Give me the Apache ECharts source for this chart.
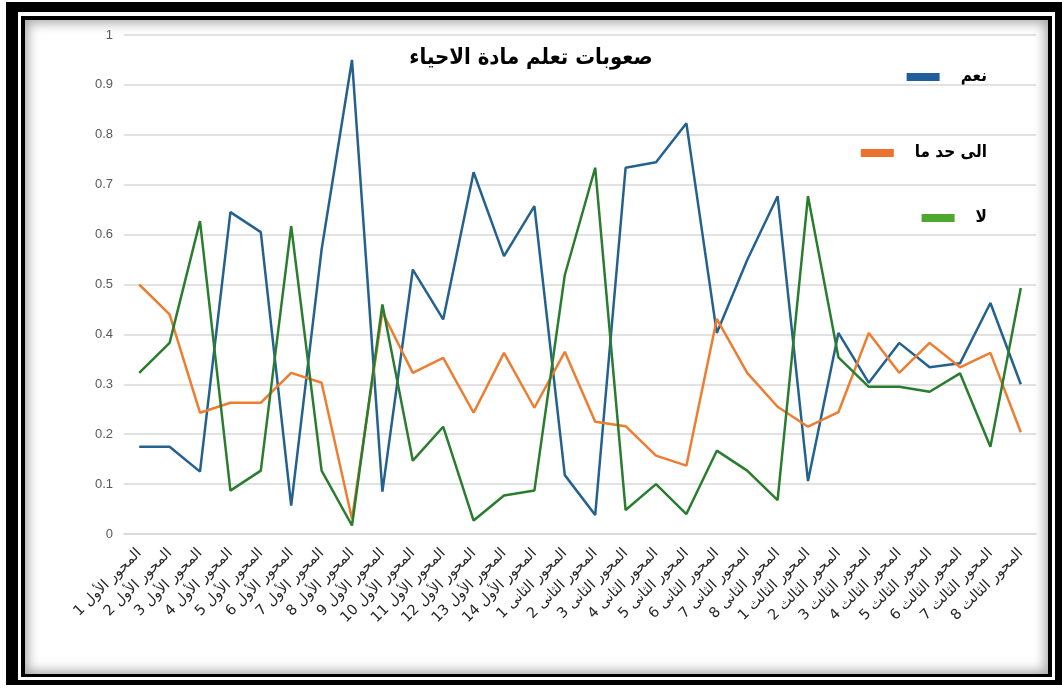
<!DOCTYPE html>
<html>
<head>
<meta charset="utf-8">
<script src="https://cdn.jsdelivr.net/npm/echarts@6/dist/echarts.min.js"></script>
<style>
html,body{margin:0;padding:0;background:#fff;}
#wrap{position:relative;width:1062px;height:691px;overflow:hidden;}
#chart{position:absolute;left:0;top:0;width:1062px;height:691px;}
.outer{position:absolute;left:6px;top:2px;width:1037px;height:668px;border-style:solid;border-color:#000;border-width:10px 7px 5px 12px;pointer-events:none;}
.inner{position:absolute;left:21px;top:16px;width:1023px;height:654px;border-style:solid;border-color:#000;border-width:4px 4px 3px 4px;pointer-events:none;}
.shade{position:absolute;left:25px;top:20px;width:1023px;height:654px;box-shadow:inset 0 0 12px 3px rgba(0,0,0,0.35);pointer-events:none;}
</style>
</head>
<body>
<div id="wrap">
<div id="chart"></div>
<div class="outer"></div>
<div class="inner"></div>
<div class="shade"></div>
</div>
<script>
const titleText = 'صعوبات تعلم مادة الاحياء';
const categories = [
  'المحور الأول 1','المحور الأول 2','المحور الأول 3','المحور الأول 4','المحور الأول 5','المحور الأول 6','المحور الأول 7',
  'المحور الأول 8','المحور الأول 9','المحور الأول 10','المحور الأول 11','المحور الأول 12','المحور الأول 13','المحور الأول 14',
  'المحور الثانى 1','المحور الثانى 2','المحور الثانى 3','المحور الثانى 4','المحور الثانى 5','المحور الثانى 6','المحور الثانى 7','المحور الثانى 8',
  'المحور الثالث 1','المحور الثالث 2','المحور الثالث 3','المحور الثالث 4','المحور الثالث 5','المحور الثالث 6','المحور الثالث 7','المحور الثالث 8'
];
const seriesNames = ['نعم', 'الى حد ما', 'لا'];
const yesValues = [0.175,0.175,0.125,0.645,0.605,0.057,0.57,0.95,0.085,0.53,0.43,0.725,0.557,0.657,
  0.118,0.038,0.734,0.745,0.823,0.403,0.549,0.677,0.106,0.403,0.303,0.383,0.334,0.342,0.463,0.30];
const somewhatValues = [0.5,0.44,0.243,0.263,0.263,0.323,0.303,0.03,0.445,0.323,0.353,0.243,0.363,0.253,
  0.365,0.225,0.216,0.157,0.137,0.431,0.323,0.255,0.215,0.244,0.403,0.323,0.383,0.334,0.363,0.204];
const noValues = [0.323,0.383,0.627,0.087,0.127,0.617,0.127,0.017,0.46,0.147,0.215,0.027,0.077,0.087,
  0.519,0.734,0.048,0.1,0.04,0.167,0.127,0.068,0.677,0.354,0.295,0.295,0.285,0.322,0.175,0.493];

const lineColors = ['#23628f', '#ed7d31', '#2a7d2e'];
const legendColors = ['#215f9a', '#ed7230', '#4ea72e'];
const legendTops = [62, 138, 203];

const chart = echarts.init(document.getElementById('chart'), null, {renderer: 'canvas'});
const legendFont = {fontFamily: 'DejaVu Sans Condensed', fontWeight: 'bold', fontSize: 17, color: '#000', lineHeight: 20, padding: [0, 0, 0, 16]};
const legends = seriesNames.map((n, i) => ({
  data: [{name: n, itemStyle: {color: legendColors[i]}}],
  right: 70, top: legendTops[i], orient: 'vertical',
  icon: 'rect', itemWidth: 33, itemHeight: 8,
  textStyle: legendFont, selectedMode: false
}));
const valuesList = [yesValues, somewhatValues, noValues];
chart.setOption({
  backgroundColor: '#fff',
  animation: false,
  title: {
    text: titleText, left: 'center', top: 42,
    textStyle: {fontFamily: 'DejaVu Sans Condensed', fontWeight: 'bold', fontSize: 22, color: '#000'}
  },
  legend: legends,
  grid: {left: 124, right: 26, top: 35, bottom: 157, containLabel: false},
  xAxis: {
    type: 'category', data: categories, boundaryGap: true,
    axisLine: {show: true, lineStyle: {color: '#d9d9d9', width: 1.5}},
    axisTick: {show: false},
    axisLabel: {rotate: 45, interval: 0, margin: 17, color: '#262626', fontFamily: 'DejaVu Sans', fontSize: 14.5}
  },
  yAxis: {
    type: 'value', min: 0, max: 1, interval: 0.1,
    axisLine: {show: false}, axisTick: {show: false},
    splitLine: {lineStyle: {color: '#d9d9d9', width: 1.5}},
    axisLabel: {margin: 11, color: '#595959', fontFamily: 'Liberation Sans', fontSize: 13}
  },
  series: seriesNames.map((n, i) => ({
    name: n, type: 'line', data: valuesList[i], symbol: 'none',
    lineStyle: {color: lineColors[i], width: 2.5}, itemStyle: {color: lineColors[i]}
  }))
});
</script>
</body>
</html>
